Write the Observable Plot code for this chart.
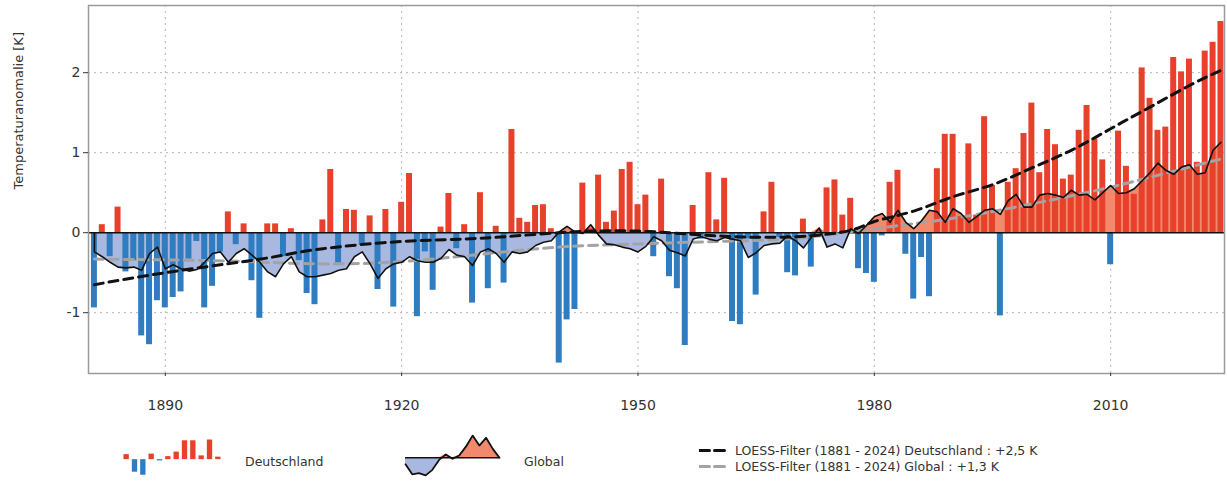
<!DOCTYPE html>
<html><head><meta charset="utf-8">
<script src="https://cdn.jsdelivr.net/npm/d3@7"></script>
<script src="https://cdn.jsdelivr.net/npm/@observablehq/plot@0.6"></script>
<style>
body{margin:0;background:#fff;font-family:"DejaVu Sans",sans-serif;}
#wrap{position:relative;width:1227px;height:482px;overflow:hidden;}
.lg{position:absolute;font-size:12.5px;color:#333;white-space:nowrap;}
.g{position:absolute;}
</style></head>
<body><div id="wrap"><div id="chart"></div></div>
<script>
const firstYear = 1881;
// Deutschland: annual temperature anomaly [K]
const germany = [
-0.94,0.10,-0.30,0.32,-0.49,-0.35,-1.29,-1.40,-0.85,-0.94,
-0.81,-0.74,-0.33,-0.11,-0.94,-0.67,-0.24,0.26,-0.15,0.11,
-0.60,-1.07,0.11,0.11,-0.30,0.05,-0.35,-0.76,-0.90,0.16,
0.79,-0.38,0.29,0.28,-0.16,0.21,-0.71,0.29,-0.93,0.38,
0.74,-1.05,-0.24,-0.72,0.07,0.49,-0.20,0.10,-0.88,0.50,
-0.70,0.08,-0.63,1.29,0.18,0.13,0.34,0.35,0.05,-1.63,
-1.09,-0.96,0.62,0.05,0.72,0.13,0.27,0.79,0.88,0.35,
0.47,-0.30,0.67,-0.55,-0.70,-1.41,0.34,-0.08,0.75,0.16,
0.68,-1.11,-1.15,-0.08,-0.78,0.26,0.63,-0.06,-0.50,-0.54,
0.17,-0.43,0.03,0.56,0.66,0.22,0.43,-0.45,-0.51,-0.62,
-0.04,0.63,0.78,-0.27,-0.83,-0.31,-0.80,0.80,1.23,1.23,
0.20,1.11,0.22,1.45,0.59,-1.04,0.63,0.80,1.24,1.62,
0.75,1.29,1.10,0.67,0.72,1.28,1.59,1.17,0.91,-0.40,
1.27,0.83,0.48,2.06,1.68,1.28,1.32,2.19,2.01,2.17,
0.88,2.27,2.38,2.64];
// Global: annual temperature anomaly [K]
const globalAnom = [
-0.24,-0.30,-0.37,-0.43,-0.44,-0.43,-0.47,-0.26,-0.18,-0.45,
-0.40,-0.45,-0.48,-0.46,-0.37,-0.26,-0.24,-0.37,-0.26,-0.20,
-0.28,-0.37,-0.49,-0.55,-0.39,-0.30,-0.49,-0.55,-0.55,-0.53,
-0.51,-0.47,-0.45,-0.30,-0.24,-0.39,-0.57,-0.45,-0.39,-0.37,
-0.30,-0.35,-0.37,-0.37,-0.32,-0.21,-0.28,-0.30,-0.41,-0.24,
-0.20,-0.26,-0.37,-0.24,-0.26,-0.24,-0.16,-0.12,-0.10,0.01,
0.08,0.01,-0.01,0.10,-0.03,-0.14,-0.15,-0.18,-0.20,-0.24,
-0.17,-0.05,-0.10,-0.22,-0.25,-0.29,-0.08,-0.05,-0.08,-0.10,
-0.06,-0.08,-0.10,-0.31,-0.25,-0.16,-0.14,-0.13,-0.04,-0.10,
-0.19,-0.06,0.06,-0.18,-0.14,-0.19,0.05,-0.01,0.09,0.20,
0.24,0.13,0.28,0.13,0.05,0.15,0.28,0.26,0.13,0.30,
0.24,0.13,0.20,0.28,0.30,0.23,0.40,0.48,0.32,0.32,
0.47,0.49,0.47,0.44,0.53,0.47,0.48,0.41,0.50,0.59,
0.49,0.50,0.55,0.65,0.75,0.87,0.78,0.73,0.82,0.85,
0.73,0.75,1.03,1.13];
// LOESS filter curves, read at selected years
const loessYears   = [1881,1890,1900,1905,1910,1920,1930,1940,1950,1960,1970,1977,1980,1985,1990,1995,2000,2005,2010,2015,2020,2024];
const loessGermany = [-0.65,-0.50,-0.36,-0.28,-0.20,-0.11,-0.07,0.00,0.02,-0.04,-0.05,0.03,0.14,0.27,0.45,0.60,0.81,1.03,1.30,1.57,1.84,2.03];
const loessGlobYears = [1881,1890,1900,1910,1920,1930,1940,1950,1960,1970,1980,1990,2000,2010,2020,2024];
const loessGlobal    = [-0.33,-0.34,-0.36,-0.39,-0.36,-0.27,-0.18,-0.14,-0.11,-0.07,0.05,0.18,0.36,0.57,0.82,0.92];
const xTicks = [1890,1920,1950,1980,2010];
const yTicks = [-1,0,1,2];
// legend glyph samples
const legendBars = [0.2,-0.5,-0.62,0.22,-0.05,0.12,0.3,0.75,0.75,0.15,0.78,0.1];
const legendArea = [-0.3,-0.75,-0.7,-0.8,-0.55,-0.1,0.15,-0.05,0.1,0.5,1.0,0.55,0.9,0.4,0.0];

const RED = "#e8412b", BLUE = "#2f7cc0", AREA_BLUE = "#a9b8e1", AREA_RED = "#f2896c";

const gData = germany.map((value,i)=>({year:firstYear+i, value}));
const wData = globalAnom.map((value,i)=>({year:firstYear+i, value}));
const lgData = loessYears.map((year,i)=>({year, value:loessGermany[i]}));
const lwData = loessGlobYears.map((year,i)=>({year, value:loessGlobal[i]}));

const chart = Plot.plot({
  width: 1227, height: 425,
  marginLeft: 88, marginRight: 3, marginTop: 5, marginBottom: 52,
  x: {domain:[1880.25, 2024.45]},
  y: {domain:[-1.76, 2.84]},
  style: {fontFamily:"DejaVu Sans", fontSize:"14px", color:"#333", background:"#fff"},
  marks: [
    Plot.gridX(xTicks, {stroke:"#b5b5b5", strokeOpacity:1, strokeDasharray:"2,4"}),
    Plot.gridY(yTicks.filter(d=>d!==0), {stroke:"#b5b5b5", strokeOpacity:1, strokeDasharray:"2,4"}),
    Plot.areaY(wData, {x:"year", y1:0, y2:d=>Math.min(d.value,0), fill:AREA_BLUE}),
    Plot.areaY(wData, {x:"year", y1:0, y2:d=>Math.max(d.value,0), fill:AREA_RED}),
    Plot.rect(gData.filter(d=>d.value>=0), {x1:d=>d.year-0.38, x2:d=>d.year+0.38, y1:0, y2:"value", fill:RED}),
    Plot.rect(gData.filter(d=>d.value<0), {x1:d=>d.year-0.38, x2:d=>d.year+0.38, y1:0, y2:"value", fill:BLUE}),
    Plot.ruleY([0], {stroke:"#111", strokeWidth:1.6}),
    Plot.line(lwData, {x:"year", y:"value", stroke:"#a3a3a3", strokeWidth:3, strokeDasharray:"9,6", curve:"natural"}),
    Plot.ruleX(wData.slice(0,1), {x:"year", y1:0, y2:"value", stroke:"#111", strokeWidth:1.6}),
    Plot.line(wData, {x:"year", y:"value", stroke:"#111", strokeWidth:1.6}),
    Plot.line(lgData, {x:"year", y:"value", stroke:"#111", strokeWidth:3, strokeDasharray:"9,6", curve:"natural"}),
    Plot.frame({stroke:"#9a9a9a", strokeWidth:1.5}),
    Plot.axisX({ticks:xTicks, tickFormat:d=>String(d), tickSize:3, tickPadding:24, label:null}),
    Plot.axisY({ticks:yTicks, tickFormat:d=>String(d), tickSize:5, tickPadding:3, label:null}),
    Plot.text(["Temperaturanomalie [K]"], {frameAnchor:"left", rotate:-90, dx:-70, fontSize:13, fill:"#333"})
  ]
});
const wrap = document.getElementById("wrap");
document.getElementById("chart").appendChild(chart);

function place(el, x, y){ el.style.left=x+"px"; el.style.top=y+"px"; el.classList.add("g"); wrap.appendChild(el); }

// legend glyph 1: bars
const lb = legendBars.map((v,i)=>({i,v}));
const glyph1 = Plot.plot({
  width: 100, height: 44, margin: 0,
  x:{domain:[-0.5, legendBars.length-0.5], axis:null},
  y:{domain:[-0.75, 1.0], axis:null},
  marks:[
    Plot.rect(lb.filter(d=>d.v>=0), {x1:d=>d.i-0.32, x2:d=>d.i+0.32, y1:0, y2:"v", fill:RED}),
    Plot.rect(lb.filter(d=>d.v<0), {x1:d=>d.i-0.32, x2:d=>d.i+0.32, y1:0, y2:"v", fill:BLUE})
  ]
});
place(glyph1, 122, 434);

// legend glyph 2: area
const la = legendArea.map((v,i)=>({i,v}));
const glyph2 = Plot.plot({
  width: 98, height: 46, margin: 2,
  x:{domain:[0, legendArea.length-1], axis:null},
  y:{domain:[-0.85, 1.05], axis:null},
  marks:[
    Plot.areaY(la, {x:"i", y1:0, y2:d=>Math.min(d.v,0), fill:AREA_BLUE}),
    Plot.areaY(la, {x:"i", y1:0, y2:d=>Math.max(d.v,0), fill:AREA_RED}),
    Plot.ruleY([0], {stroke:"#111", strokeWidth:1.5}),
    Plot.line(la, {x:"i", y:"v", stroke:"#111", strokeWidth:1.8})
  ]
});
place(glyph2, 403, 432);

// legend dashed lines
function dashGlyph(color){
  return Plot.plot({width:30, height:8, margin:0, x:{domain:[0,1],axis:null}, y:{domain:[0,1],axis:null},
    marks:[Plot.lineY([0.5,0.5], {x:[0,1], stroke:color, strokeWidth:3, strokeDasharray:"10,5"})]});
}
place(dashGlyph("#111"), 699, 446);
place(dashGlyph("#a3a3a3"), 699, 462);

function label(txt, x, y){ const d=document.createElement("div"); d.className="lg"; d.textContent=txt; d.style.left=x+"px"; d.style.top=y+"px"; wrap.appendChild(d); }
label("Deutschland", 245, 454);
label("Global", 524, 454);
label("LOESS-Filter (1881 - 2024) Deutschland : +2,5 K", 735, 443);
label("LOESS-Filter (1881 - 2024) Global : +1,3 K", 735, 459);
</script></body></html>
